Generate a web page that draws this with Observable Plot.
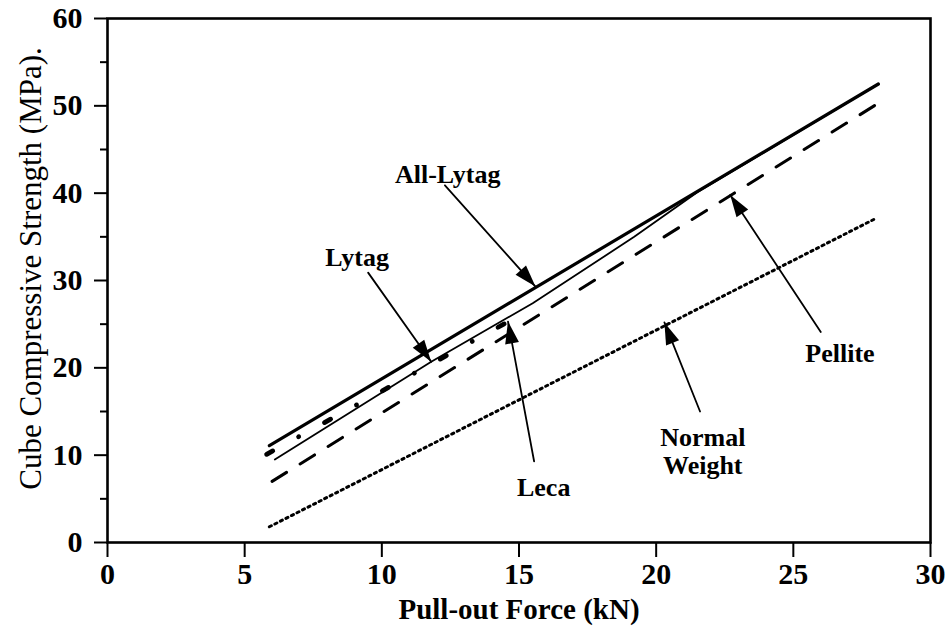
<!DOCTYPE html>
<html>
<head>
<meta charset="utf-8">
<script src="https://cdn.jsdelivr.net/npm/d3@7"></script>
<script src="https://cdn.jsdelivr.net/npm/@observablehq/plot@0.6"></script>
<style>
  html, body { margin: 0; padding: 0; background: #fff; }
</style>
</head>
<body>
<div id="chart"></div>
<script>
// ---- tick labels ----
const xTicks = [0, 5, 10, 15, 20, 25, 30];
const yTicks = [0, 10, 20, 30, 40, 50, 60];
const yMinorTicks = [5, 15, 25, 35, 45, 55];

// ---- series (pull-out force kN, cube strength MPa) ----
const allLytagX = [5.9, 28.1];
const allLytagY = [11.1, 52.5];
const lytagX = [6.1, 11.8, 15.5, 19.2, 21.5, 28.1];
const lytagY = [9.5, 20.7, 27.4, 35.0, 40.1, 52.5];
const lecaX = [5.8, 14.5];
const lecaY = [10.1, 25.1];
const pelliteX = [6.0, 28.1];
const pelliteY = [7.0, 50.3];
const normalX = [5.9, 28.0];
const normalY = [1.8, 37.1];

// ---- annotations ----
const labels = ["All-Lytag", "Lytag", "Leca", "Normal\nWeight", "Pellite"];
const labelX = [12.4, 9.1, 15.9, 21.7, 26.7];
const labelY = [42.2, 32.7, 6.4, 10.5, 21.7];
const arrowFromX = [12.3, 9.5, 15.55, 21.6, 26.0];
const arrowFromY = [40.9, 30.9, 9.3, 15.0, 24.1];
const arrowToX = [15.6, 11.8, 14.6, 20.3, 22.7];
const arrowToY = [29.3, 20.7, 25.3, 25.2, 39.8];

const pts = (xs, ys) => xs.map((x, i) => ({x, y: ys[i]}));

const chart = Plot.plot({
  width: 948,
  height: 641,
  marginLeft: 107,
  marginRight: 18,
  marginTop: 18,
  marginBottom: 99,
  style: {
    fontFamily: "'Liberation Serif', 'Times New Roman', serif",
    fontWeight: "bold",
    color: "black",
    background: "white"
  },
  x: {domain: [0, 30]},
  y: {domain: [0, 60]},
  marks: [
    Plot.axisY({ticks: yMinorTicks, tickSize: 7, tickFormat: () => "", strokeWidth: 2, label: null}),
    Plot.axisY({ticks: yTicks, tickSize: 13, tickPadding: 12, fontSize: 30, strokeWidth: 2, label: null}),
    Plot.axisX({ticks: xTicks, tickSize: 15, tickPadding: 5, fontSize: 30, strokeWidth: 2, label: null}),
    Plot.frame({stroke: "black", strokeWidth: 2.6}),
    Plot.line(pts(normalX, normalY), {x: "x", y: "y", stroke: "black", strokeWidth: 3, strokeDasharray: "2.2,4"}),
    Plot.line(pts(pelliteX, pelliteY), {x: "x", y: "y", stroke: "black", strokeWidth: 3, strokeDasharray: "17,16"}),
    Plot.line(pts(lytagX, lytagY), {x: "x", y: "y", stroke: "black", strokeWidth: 1.8}),
    Plot.line(pts(lecaX, lecaY), {x: "x", y: "y", stroke: "black", strokeWidth: 4.8, strokeLinecap: "round", strokeDasharray: "7,29.5,0.1,29.4"}),
    Plot.line(pts(allLytagX, allLytagY), {x: "x", y: "y", stroke: "black", strokeWidth: 3.2}),
    Plot.arrow(labels, {
      x1: (d, i) => arrowFromX[i], y1: (d, i) => arrowFromY[i],
      x2: (d, i) => arrowToX[i], y2: (d, i) => arrowToY[i],
      stroke: "black", strokeWidth: 1.8, headLength: 0
    }),
    Plot.text(labels, {
      x: (d, i) => labelX[i], y: (d, i) => labelY[i], text: d => d,
      fontSize: 26, lineHeight: 1.1, fill: "black"
    }),
    Plot.text(["Pull-out Force (kN)"], {frameAnchor: "bottom", dy: 76, text: d => d, fontSize: 29, fill: "black"}),
    Plot.text(["Cube Compressive Strength (MPa)."], {frameAnchor: "left", dx: -76, dy: -12, rotate: -90, textAnchor: "middle", text: d => d, fontSize: 31, fontWeight: "normal", fill: "black"})
  ]
});

// fill triangular arrowheads at the end of each arrow shaft
chart.querySelectorAll('g[aria-label="arrow"] path').forEach(p => {
  const n = (p.getAttribute("d").match(/-?\d*\.?\d+(?:e[-+]?\d+)?/gi) || []).map(Number);
  if (n.length < 4) return;
  const x1 = n[0], y1 = n[1], x2 = n[n.length - 2], y2 = n[n.length - 1];
  const L = Math.hypot(x2 - x1, y2 - y1);
  const ux = (x2 - x1) / L, uy = (y2 - y1) / L;
  const hl = 22, hw = 7;
  const bx = x2 - ux * hl, by = y2 - uy * hl;
  const head = document.createElementNS("http://www.w3.org/2000/svg", "path");
  head.setAttribute("d", `M${x2},${y2}L${bx - uy * hw},${by + ux * hw}L${bx + uy * hw},${by - ux * hw}Z`);
  head.setAttribute("fill", "black");
  head.setAttribute("stroke", "none");
  p.parentNode.appendChild(head);
});

document.getElementById("chart").appendChild(chart);
</script>
</body>
</html>
